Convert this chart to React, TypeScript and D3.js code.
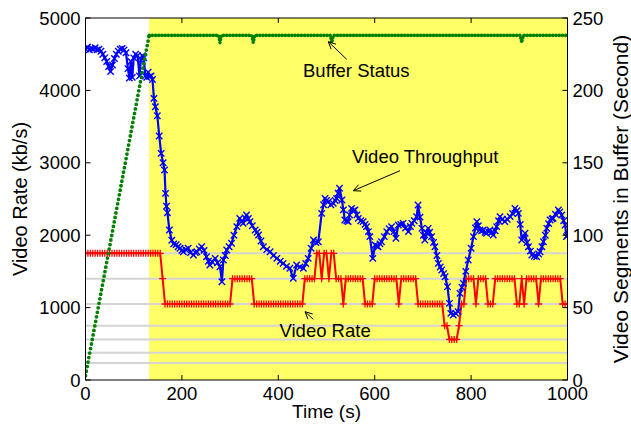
import React from 'react';
import * as d3 from 'd3';

const W = 631;
const H = 426;

// axis ticks
const timeTicks = [0, 200, 400, 600, 800, 1000];
const rateTicks = [0, 1000, 2000, 3000, 4000, 5000];
const bufferTicks = [0, 50, 100, 150, 200, 250];
// available video rates (grey guide lines)
const rateLevels = [235, 375, 560, 750, 1050, 1400, 1750];
// buffer becomes full here (yellow region starts)
const bufferFullTime = 132;

// measured throughput (kb/s)
const throughputTime = [
  0, 4, 8, 12, 16, 20, 24, 28, 32, 36, 40, 44, 48, 52, 56, 60, 64, 68, 72, 76, 80, 84, 88, 91, 94, 97,
  100, 104, 108, 112, 115, 118, 121, 124, 127, 130, 133, 136, 139, 142, 145, 149, 153, 157, 161, 164,
  166, 168, 170, 174, 179, 183, 188, 192, 196, 200, 203, 208, 213, 218, 224, 228, 231, 236, 241, 246,
  251, 255, 258, 263, 269, 274, 279, 283, 286, 290, 293, 298, 303, 308, 314, 320, 324, 327, 331, 334,
  338, 341, 346, 352, 356, 359, 364, 369, 376, 383, 390, 397, 404, 410, 417, 424, 431, 438, 445, 452,
  457, 462, 468, 473, 478, 483, 490, 494, 497, 500, 504, 509, 514, 518, 521, 524, 527, 532, 535, 538,
  542, 545, 548, 552, 556, 559, 563, 566, 571, 576, 580, 583, 587, 590, 596, 601, 604, 607, 611, 614,
  620, 625, 630, 635, 640, 644, 649, 654, 659, 664, 670, 674, 677, 682, 687, 690, 694, 698, 701, 704,
  708, 711, 714, 718, 722, 725, 729, 732, 736, 739, 743, 746, 751, 755, 758, 763, 768, 773, 777, 781,
  784, 789, 794, 800, 805, 809, 812, 815, 818, 822, 825, 829, 832, 836, 839, 843, 846, 850, 853, 857,
  860, 865, 870, 875, 881, 886, 891, 895, 898, 902, 905, 909, 912, 916, 919, 923, 926, 931, 936, 940,
  943, 947, 950, 954, 957, 961, 964, 968, 970, 975, 981, 984, 988, 992, 995, 998, 1000
];
const throughputRate = [
  4570, 4600, 4560, 4580, 4570, 4590, 4560, 4570, 4540, 4500, 4450, 4400, 4330, 4260, 4350, 4440, 4500, 4540, 4570, 4580, 4560, 4520, 4300, 4170, 4400, 4180,
  4450, 4500, 4480, 4200, 4420, 4480, 4450, 4200, 4180, 4250, 4190, 4200, 4150, 3890, 3775, 3650, 3370, 3130, 3000, 2900,
  2578, 2400, 2310, 2072, 1930, 1880, 1870, 1840, 1819, 1790, 1772, 1800, 1819, 1760, 1727, 1760, 1772, 1810, 1841, 1790,
  1703, 1640, 1588, 1630, 1680, 1620, 1565, 1358, 1657, 1720, 1796, 1840, 1888, 2000, 2118, 2233, 2190, 2164, 2240, 2279,
  2230, 2187, 2130, 2072, 2040, 2003, 1920, 1841, 1800, 1772, 1720, 1680, 1640, 1611, 1570, 1543, 1405, 1588, 1560, 1543,
  1610, 1680, 1820, 1934, 1900, 1910, 2302, 2420, 2509, 2480, 2463, 2420, 2440, 2480, 2509, 2580, 2648, 2486, 2350, 2210,
  2200, 2187, 2280, 2371, 2340, 2348, 2280, 2233, 2200, 2187, 2150, 2118, 2050, 1980, 1680, 1865, 1850, 1841, 1880, 1910,
  1980, 2049, 2090, 2118, 2050, 1957, 2141, 2150, 2164, 2100, 2049, 2120, 2164, 2200, 2256, 2417, 2250, 2095, 2000, 1934,
  2030, 2095, 2040, 1980, 1900, 1841, 1720, 1611, 1560, 1519, 1470, 1427, 1289, 1059, 920, 898, 920, 944, 1197, 1280,
  1335, 1500, 1657, 1820, 1980, 2100, 2187, 2130, 2072, 2060, 2072, 2040, 2026, 2050, 2072, 2040, 2003, 2060, 2118, 2200,
  2256, 2220, 2187, 2220, 2256, 2300, 2371, 2340, 2302, 2150, 1934, 1980, 2026, 1900, 1841, 1780, 1727, 1710, 1703, 1740,
  1772, 1840, 1910, 2000, 2095, 2160, 2210, 2225, 2233, 2290, 2348, 2320, 2279, 2200, 2141, 1980, 2000
];

// selected video rate (kb/s), one sample every 5 s from t = 0
const rateStep = 5;
const videoRate = [
  1750, 1750, 1750, 1750, 1750, 1750, 1750, 1750, 1750, 1750, 1750, 1750, 1750, 1750, 1750, 1750,
  1750, 1750, 1750, 1750, 1750, 1750, 1750, 1750, 1750, 1750, 1750, 1750, 1750, 1750, 1750, 1750,
  1400,
  1050, 1050, 1050, 1050, 1050, 1050, 1050, 1050, 1050, 1050, 1050, 1050, 1050, 1050, 1050, 1050,
  1050, 1050, 1050, 1050, 1050, 1050, 1050, 1050, 1050, 1050, 1050, 1050,
  1400, 1400, 1400, 1400, 1400, 1400, 1400, 1400, 1400,
  1050, 1050, 1050, 1050, 1050, 1050, 1050, 1050, 1050, 1050, 1050, 1050, 1050, 1050, 1050, 1050,
  1050, 1050, 1050, 1050, 1050,
  1400, 1400, 1400, 1400, 1400,
  1750, 1750, 1400, 1750, 1750, 1400, 1750, 1750, 1400,
  1400, 1400, 1050, 1400, 1400, 1400, 1400, 1400, 1400, 1400, 1400,
  1050, 1050, 1050, 1050,
  1400, 1400, 1400, 1400, 1400, 1400, 1400, 1400, 1400, 1400,
  1050, 1400, 1400, 1400, 1400, 1400, 1400, 1400,
  1050, 1050, 1050, 1050, 1050, 1050, 1050, 1050, 1050, 1050, 1050,
  750, 750, 560, 560, 560, 560, 750, 1050, 1050,
  1400, 1400, 1400, 1400, 1050, 1400, 1400, 1400, 1400, 1050, 1050, 1050,
  1400, 1400, 1400, 1400, 1400, 1400, 1400, 1400, 1400,
  1050, 1050, 1400, 1050, 1400, 1400, 1400, 1400, 1400, 1050,
  1400, 1400, 1400, 1400, 1400, 1400, 1400, 1400, 1400,
  1050, 1050, 1050
];

// video segments in buffer
const bufferTime = [0, 132, 276, 279, 282, 345, 348, 351, 508, 511, 514, 902, 905, 908, 1000];
const bufferLevel = [3, 238, 238, 233, 238, 238, 233, 238, 238, 233, 238, 238, 233, 238, 238];

const FONT = '"Liberation Sans", Arial, Helvetica, sans-serif';

const Arrow: React.FC<{ x1: number; y1: number; x2: number; y2: number }> = ({ x1, y1, x2, y2 }) => {
  const a = Math.atan2(y2 - y1, x2 - x1);
  const len = 8;
  const spread = 0.45;
  const p1 = [x2 - len * Math.cos(a - spread), y2 - len * Math.sin(a - spread)];
  const p2 = [x2 - len * Math.cos(a + spread), y2 - len * Math.sin(a + spread)];
  return (
    <g stroke="#000" strokeWidth={1} fill="none">
      <line x1={x1} y1={y1} x2={x2} y2={y2} />
      <polyline points={`${p1[0]},${p1[1]} ${x2},${y2} ${p2[0]},${p2[1]}`} />
    </g>
  );
};

const App: React.FC = () => {
  const left = 85.5, right = 567.5, top = 18, bottom = 380;

  const x = d3.scaleLinear().domain([0, 1000]).range([left, right]);
  const yRate = d3.scaleLinear().domain([0, 5000]).range([bottom, top]);
  const yBuf = d3.scaleLinear().domain([0, 250]).range([bottom, top]);

  const rateLine = d3.line<number>()
    .x((_, i) => x(i * rateStep))
    .y(d => yRate(d));

  const tpPoints = throughputTime.map((t, i) => [t, throughputRate[i]] as [number, number]);
  const tpLine = d3.line<[number, number]>().x(d => x(d[0])).y(d => yRate(d[1]));

  const bufPoints = bufferTime.map((t, i) => [t, bufferLevel[i]] as [number, number]);
  const bufLine = d3.line<[number, number]>().x(d => x(d[0])).y(d => yBuf(d[1]));

  const tick = 5;
  const tickFont = 18.5;

  return (
    <svg width={W} height={H} style={{ position: 'absolute', left: 0, top: 0, background: '#fff' }}
      fontFamily={FONT}>
      <defs>
        <clipPath id="plot">
          <rect x={left} y={top} width={right - left} height={bottom - top} />
        </clipPath>
      </defs>

      {/* buffer-full region */}
      <rect x={x(bufferFullTime)} y={top} width={x(1000) - x(bufferFullTime)} height={bottom - top} fill="#ffff66" />

      {/* available rate levels */}
      {rateLevels.map(r => (
        <line key={r} x1={left} x2={right} y1={yRate(r)} y2={yRate(r)} stroke="#d4d4d4" strokeWidth={2} />
      ))}

      <g clipPath="url(#plot)">
        {/* video rate */}
        <path d={rateLine(videoRate) || ''} fill="none" stroke="#ff0000" strokeWidth={2} strokeLinejoin="round" />
        <g stroke="#ff0000" strokeWidth={1.3}>
          {videoRate.map((r, i) => {
            const cx = x(i * rateStep), cy = yRate(r);
            return (
              <g key={i}>
                <line x1={cx - 3.5} x2={cx + 3.5} y1={cy} y2={cy} />
                <line x1={cx} x2={cx} y1={cy - 3.5} y2={cy + 3.5} />
              </g>
            );
          })}
        </g>

        {/* throughput */}
        <path d={tpLine(tpPoints) || ''} fill="none" stroke="#0000ff" strokeWidth={2.2} strokeLinejoin="round" />
        <g stroke="#0000ff" strokeWidth={1.4}>
          {tpPoints.map((d, i) => {
            const cx = x(d[0]), cy = yRate(d[1]);
            return (
              <g key={i}>
                <line x1={cx - 3.2} x2={cx + 3.2} y1={cy - 3.2} y2={cy + 3.2} />
                <line x1={cx - 3.2} x2={cx + 3.2} y1={cy + 3.2} y2={cy - 3.2} />
              </g>
            );
          })}
        </g>

        {/* buffer */}
        <path d={bufLine(bufPoints.slice(0, 2)) || ''} fill="none" stroke="#008000" strokeWidth={3.8}
          strokeLinecap="round" strokeDasharray="0 4.6" />
        <path d={bufLine(bufPoints.slice(1)) || ''} fill="none" stroke="#008000" strokeWidth={3.6}
          strokeLinecap="round" strokeDasharray="0 3.2" />
        <path d={bufLine(bufPoints.slice(1)) || ''} fill="none" stroke="#008000" strokeWidth={1.2} />
      </g>

      {/* annotations */}
      <g fontSize={18.5} fill="#000">
        <text x={303} y={77}>Buffer Status</text>
        <text x={352} y={163}>Video Throughput</text>
        <text x={279.5} y={337}>Video Rate</text>
      </g>
      <Arrow x1={346.7} y1={59.3} x2={328.3} y2={41.7} />
      <Arrow x1={400} y1={170.7} x2={353.3} y2={190.7} />
      <Arrow x1={313.3} y1={319.3} x2={305} y2={311.7} />

      {/* frame and ticks */}
      <rect x={left} y={top} width={right - left} height={bottom - top} fill="none" stroke="#000" strokeWidth={1} />
      <g stroke="#000" strokeWidth={1}>
        {timeTicks.map(t => (
          <g key={t}>
            <line x1={x(t)} x2={x(t)} y1={bottom} y2={bottom - tick} />
            <line x1={x(t)} x2={x(t)} y1={top} y2={top + tick} />
          </g>
        ))}
        {rateTicks.map(v => (
          <line key={v} x1={left} x2={left + tick} y1={yRate(v)} y2={yRate(v)} />
        ))}
        {bufferTicks.map(v => (
          <line key={v} x1={right} x2={right - tick} y1={yBuf(v)} y2={yBuf(v)} />
        ))}
      </g>

      <g fontSize={tickFont} fill="#000">
        {timeTicks.map(t => (
          <text key={t} x={x(t)} y={bottom + 20} textAnchor="middle">{t}</text>
        ))}
        {rateTicks.map(v => (
          <text key={v} x={left - 5} y={yRate(v)} dy="0.36em" textAnchor="end">{v}</text>
        ))}
        {bufferTicks.map(v => (
          <text key={v} x={right + 5} y={yBuf(v)} dy="0.36em" textAnchor="start">{v}</text>
        ))}
      </g>

      {/* axis titles */}
      <g fill="#000">
        <text x={(left + right) / 2} y={418} fontSize={19} textAnchor="middle">Time (s)</text>
        <text transform={`translate(20,${(top + bottom) / 2}) rotate(-90)`} fontSize={20}
          dy="0.36em" textAnchor="middle">
          Video Rate (kb/s)
        </text>
        <text transform={`translate(620,${(top + bottom) / 2}) rotate(-90)`} fontSize={21}
          dy="0.36em" textAnchor="middle">
          Video Segments in Buffer (Second)
        </text>
      </g>
    </svg>
  );
};

export default App;
